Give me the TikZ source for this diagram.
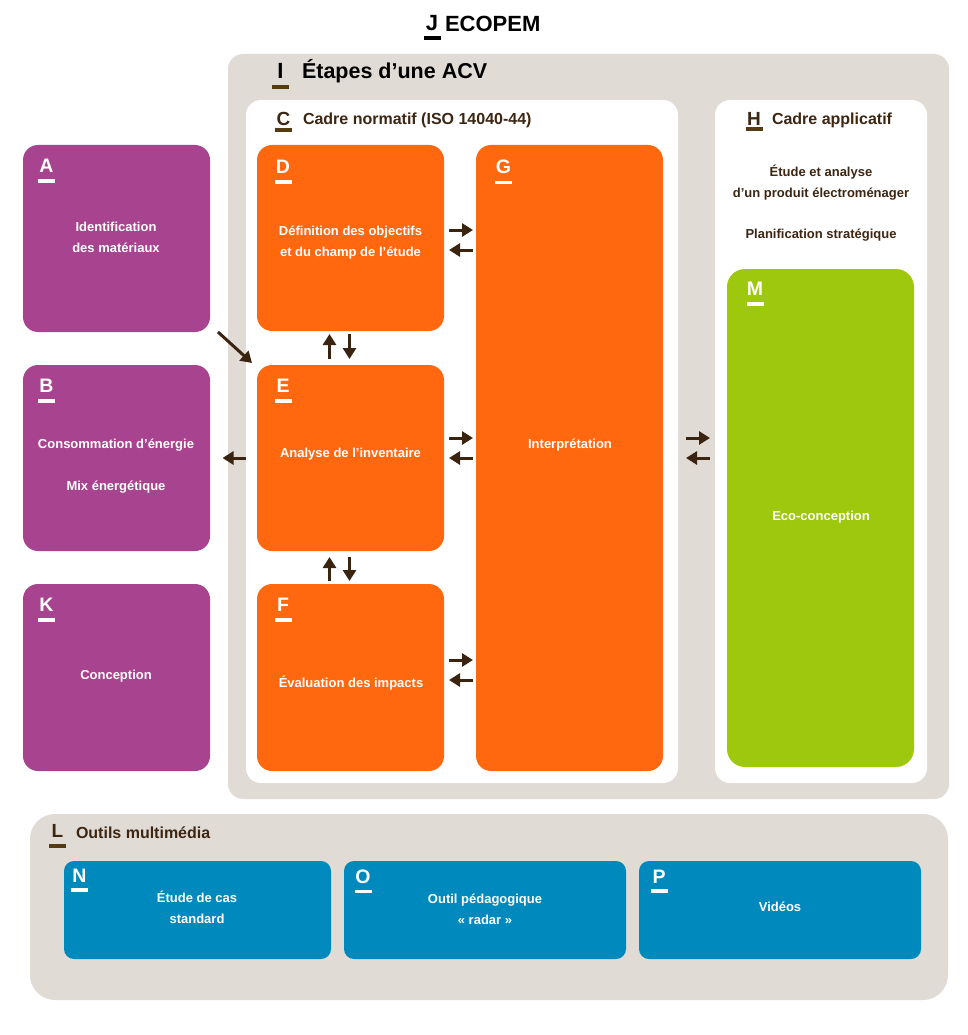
\documentclass[tikz,border=0pt]{standalone}
\usepackage{fontspec}
\setmainfont{Liberation Sans}
\usetikzlibrary{arrows.meta,calc}
\definecolor{bggray}{HTML}{E1DBD5}
\definecolor{orangec}{HTML}{FF680F}
\definecolor{purplec}{HTML}{A8448F}
\definecolor{greenc}{HTML}{9DC80E}
\definecolor{bluec}{HTML}{0089BD}
\definecolor{brownc}{HTML}{3D2612}
\definecolor{barc}{HTML}{553A12}
\definecolor{arrowc}{HTML}{3A2410}
\newcommand\myfs[2]{\fontsize{#1}{#2}\selectfont\bfseries}
% name, position (top centre), letter, style, bar colour, gap
\newcommand\tagat[6]{%
  \node[#4, anchor=north, inner sep=0pt, outer sep=0pt, text depth=0pt] (#1) at (#2) {#3};
  \fill[#5] ($(#1.south)+(-8.5,#6)$) rectangle ++(17,3.5);}
\begin{document}
\begin{tikzpicture}[x=1pt,y=-1pt,
  panel/.style={anchor=north west,inner sep=0pt,outer sep=0pt},
  orbox/.style={panel,fill=orangec,rounded corners=15pt,minimum width=187pt},
  pubox/.style={panel,fill=purplec,rounded corners=15pt,minimum width=187pt},
  blbox/.style={panel,fill=bluec,rounded corners=10pt,minimum height=98pt},
  arr/.style={draw=arrowc,line width=3pt,-{Triangle[length=11pt,width=13pt]}},
  wtxt/.style={text=white,font=\myfs{13}{21},align=center,inner sep=0pt,text depth=0pt},
  btxt/.style={text=brownc,font=\myfs{13}{21},align=center,inner sep=0pt,text depth=0pt},
  boxletter/.style={text=white,font=\myfs{19.5}{20}},
  titleletter/.style={text=brownc,font=\myfs{19}{20}},
  ttl/.style={anchor=base west,inner sep=0pt,outer sep=0pt},
]
\useasboundingbox[fill=white] (0,0) rectangle (967,1035);

% panels
\node[panel,fill=bggray,rounded corners=15pt,minimum width=721pt,minimum height=745pt] (I) at (228,54) {};
\node[panel,fill=white,rounded corners=15pt,minimum width=432pt,minimum height=683pt] (C) at (246,100) {};
\node[panel,fill=white,rounded corners=15pt,minimum width=212pt,minimum height=683pt] (H) at (715,100) {};
\node[panel,fill=bggray,rounded corners=25pt,minimum width=918pt,minimum height=186pt] (L) at (30,814) {};

% orange boxes
\node[orbox,minimum height=186pt] (D) at (257,145) {};
\node[orbox,minimum height=186pt] (E) at (257,365) {};
\node[orbox,minimum height=187pt] (F) at (257,584) {};
\node[orbox,minimum height=626pt] (G) at (476,145) {};
% purple boxes
\node[pubox,minimum height=187pt] (A) at (23,145) {};
\node[pubox,minimum height=186pt] (B) at (23,365) {};
\node[pubox,minimum height=187pt] (K) at (23,584) {};
% green box
\node[panel,fill=greenc,rounded corners=18pt,minimum width=187pt,minimum height=498pt] (M) at (727,269) {};
% blue boxes
\node[blbox,minimum width=267pt] (N) at (64,861) {};
\node[blbox,minimum width=282pt] (O) at (344,861) {};
\node[blbox,minimum width=282pt] (P) at (639,861) {};

% titles
\tagat{Jtag}{432,15}{J}{font=\myfs{22}{22},text=black}{black}{6}
\node[ttl,font=\myfs{22}{22},text=black] (Jtitle) at (445,32) {ECOPEM};
\tagat{Itag}{280.5,63}{I}{font=\myfs{22}{22},text=black}{barc}{7}
\node[ttl,font=\myfs{21.5}{22},text=black] (Ititle) at (302,79) {Étapes d’une ACV};
\tagat{Ctag}{283.5,112}{C}{titleletter}{barc}{3}
\node[ttl,font=\myfs{16}{18},text=brownc] (Ctitle) at (303,125) {Cadre normatif (ISO 14040-44)};
\tagat{Htag}{754,112}{H}{titleletter}{barc}{2}
\node[ttl,font=\myfs{16}{18},text=brownc] (Htitle) at (772,125) {Cadre applicatif};
\tagat{Ltag}{57.5,824}{L}{titleletter}{barc}{7}
\node[ttl,font=\myfs{16}{18},text=brownc] (Ltitle) at (76,838) {Outils multimédia};

% box letters
\tagat{Dtag}{283,160}{D}{boxletter}{white}{7}
\tagat{Etag}{283,379}{E}{boxletter}{white}{7}
\tagat{Ftag}{283,598}{F}{boxletter}{white}{7}
\tagat{Gtag}{503.5,160}{G}{boxletter}{white}{7}
\tagat{Atag}{46.5,159}{A}{boxletter}{white}{7}
\tagat{Btag}{46.5,379}{B}{boxletter}{white}{7}
\tagat{Ktag}{46.5,598}{K}{boxletter}{white}{7}
\tagat{Mtag}{755,282}{M}{boxletter}{white}{7}
\tagat{Ntag}{79.5,869}{N}{boxletter}{white}{6}
\tagat{Otag}{363,870}{O}{boxletter}{white}{6}
\tagat{Ptag}{659,870}{P}{boxletter}{white}{6}

% box texts
\node[wtxt] (Atext) at (116,237) {Identification\\des matériaux};
\node[wtxt] (Btext1) at (116,444) {Consommation d’énergie};
\node[wtxt] (Btext2) at (116,486) {Mix énergétique};
\node[wtxt] (Ktext) at (116,675) {Conception};
\node[wtxt] (Dtext) at (350.5,241.5) {Définition des objectifs\\et du champ de l’étude};
\node[wtxt] (Etext) at (350.5,453) {Analyse de l’inventaire};
\node[wtxt] (Ftext) at (351,681.5) {Évaluation des impacts};
\node[wtxt] (Gtext) at (570,444) {Interprétation};
\node[wtxt] (Mtext) at (821,516) {Eco-conception};
\node[btxt] (Htext1) at (821,181.5) {Étude et analyse\\d’un produit électroménager};
\node[btxt] (Htext2) at (821,234) {Planification stratégique};
\node[wtxt] (Ntext) at (197,907.5) {Étude de cas\\standard};
\node[wtxt] (Otext) at (485,909) {Outil pédagogique\\«~radar~»};
\node[wtxt] (Ptext) at (780,907) {Vidéos};

% arrows
\draw[arr] ($(D.north east)+(5,85)$) -- ($(G.north west)+(-3,85)$);
\draw[arr] ($(G.north west)+(-3,105)$) -- ($(D.north east)+(5,105)$);
\draw[arr] ($(E.north east)+(5,73)$) -- ($(G.north west)+(-3,293)$);
\draw[arr] ($(G.north west)+(-3,313)$) -- ($(E.north east)+(5,93)$);
\draw[arr] ($(F.north east)+(5,76)$) -- ($(G.north west)+(-3,515)$);
\draw[arr] ($(G.north west)+(-3,535)$) -- ($(F.north east)+(5,96)$);
\draw[arr] ($(G.north east)+(23,293)$) -- ($(H.north west)+(-5,338)$);
\draw[arr] ($(H.north west)+(-5,358)$) -- ($(G.north east)+(23,313)$);
\draw[arr] ($(E.north)+(-21,-6)$) -- ($(D.south)+(-21,3)$);
\draw[arr] ($(D.south)+(-1,3)$) -- ($(E.north)+(-1,-6)$);
\draw[arr] ($(F.north)+(-21,-3)$) -- ($(E.south)+(-21,6)$);
\draw[arr] ($(E.south)+(-1,6)$) -- ($(F.north)+(-1,-3)$);
\draw[arr] ($(A.south east)+(8,0)$) -- ($(E.north west)+(-5,-2)$);
\draw[arr] ($(E.west)+(-11,0)$) -- ($(B.east)+(12.5,0)$);
\end{tikzpicture}
\end{document}
